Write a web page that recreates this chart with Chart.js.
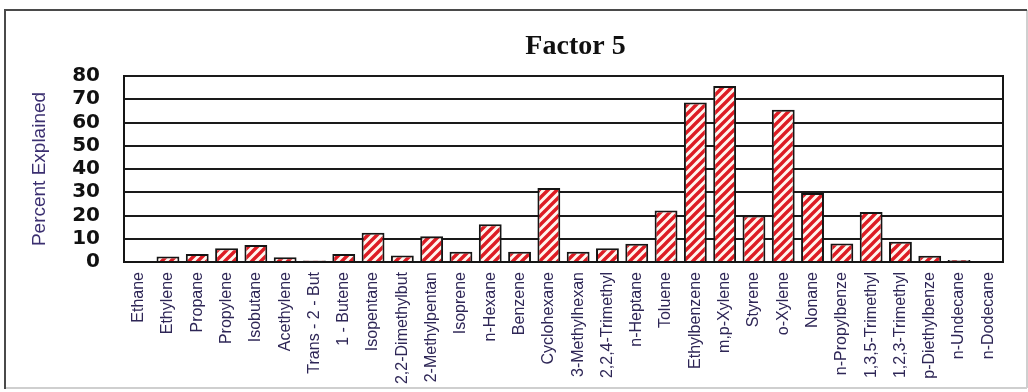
<!DOCTYPE html>
<html>
<head>
<meta charset="utf-8">
<script src="https://cdn.jsdelivr.net/npm/chart.js@4.4.1/dist/chart.umd.min.js"></script>
<style>
  html, body { margin: 0; padding: 0; background: #ffffff; }
  #wrap { width: 1028px; height: 392px; position: relative; }
</style>
</head>
<body>
<div id="wrap"><canvas id="factor5"></canvas></div>
<script>
// Compounds on the x axis
const categories = [
  'Ethane', 'Ethylene', 'Propane', 'Propylene', 'Isobutane', 'Acethylene',
  'Trans - 2 - But', '1 - Butene', 'Isopentane', '2,2-Dimethylbut',
  '2-Methylpentan', 'Isoprene', 'n-Hexane', 'Benzene', 'Cyclohexane',
  '3-Methylhexan', '2,2,4-Trimethyl', 'n-Heptane', 'Toluene', 'Ethylbenzene',
  'm,p-Xylene', 'Styrene', 'o-Xylene', 'Nonane', 'n-Propylbenze',
  '1,3,5-Trimethyl', '1,2,3-Trimethyl', 'p-Diethylbenze', 'n-Undecane', 'n-Dodecane'
];

// Percent of each compound explained by factor 5
const percentExplained = [
  0, 2.4, 3.4, 5.9, 7.3, 2.0,
  0.6, 3.4, 12.6, 2.8,
  11.1, 4.4, 16.2, 4.4, 31.8,
  4.4, 5.9, 7.9, 22.1, 68.6,
  75.7, 20.0, 65.5, 29.7, 8.0,
  21.5, 8.7, 2.7, 0.9, 0
];

// Value axis ticks
const yTicks = [0, 10, 20, 30, 40, 50, 60, 70, 80];

const chartTitle = 'Factor 5';
const yTitle = 'Percent Explained';

const labelFont = "'Liberation Sans', Arial, sans-serif";

// Red diagonal hatching on a cream ground for the bars
function makeHatch() {
  const s = 9;
  const c = document.createElement('canvas');
  c.width = s; c.height = s;
  const g = c.getContext('2d');
  g.fillStyle = '#fff6ef';
  g.fillRect(0, 0, s, s);
  g.strokeStyle = '#dd1c24';
  g.lineWidth = 3.4;
  g.beginPath();
  g.moveTo(-s, s); g.lineTo(s, -s);
  g.moveTo(0, s * 2); g.lineTo(s * 2, 0);
  g.moveTo(-1, s + 1); g.lineTo(s + 1, -1);
  g.stroke();
  return g.createPattern(c, 'repeat');
}

// Page frame and chart heading
const framePlugin = {
  id: 'frame',
  beforeDraw(chart) {
    const ctx = chart.ctx;
    ctx.save();
    ctx.fillStyle = '#ffffff';
    ctx.fillRect(0, 0, chart.width, chart.height);
    ctx.lineWidth = 2;
    ctx.strokeStyle = '#cfcfcf';
    ctx.beginPath();
    ctx.moveTo(1027, 10); ctx.lineTo(1027, 388);
    ctx.moveTo(5, 388); ctx.lineTo(1027, 388);
    ctx.stroke();
    ctx.strokeStyle = '#4a4a4a';
    ctx.beginPath();
    ctx.moveTo(5, 389); ctx.lineTo(5, 10); ctx.lineTo(1027, 10);
    ctx.stroke();
    ctx.restore();
  },
  afterDraw(chart) {
    const ctx = chart.ctx;
    const area = chart.chartArea;
    ctx.save();
    ctx.font = "bold 28px 'Liberation Serif', 'Times New Roman', serif";
    ctx.fillStyle = '#111111';
    ctx.textAlign = 'center';
    ctx.textBaseline = 'alphabetic';
    ctx.fillText(chartTitle, (area.left + area.right) / 2 + 12, 54);
    ctx.restore();
  }
};

const ctx = document.getElementById('factor5').getContext('2d');
new Chart(ctx, {
  type: 'bar',
  data: {
    labels: categories,
    datasets: [{
      label: yTitle,
      data: percentExplained,
      backgroundColor: makeHatch(),
      borderColor: '#151515',
      borderWidth: 2,
      barPercentage: 0.78,
      categoryPercentage: 1.0
    }]
  },
  options: {
    responsive: true,
    maintainAspectRatio: false,
    animation: false,
    layout: { padding: { top: 76, right: 25, left: 0, bottom: 0 } },
    plugins: {
      legend: { display: false },
      title: { display: false },
      tooltip: { enabled: false }
    },
    scales: {
      x: {
        grid: { display: false, drawTicks: false },
        border: { display: true, color: '#151515', width: 2 },
        ticks: {
          autoSkip: false,
          maxRotation: 90,
          minRotation: 90,
          padding: 10,
          color: '#2e2656',
          font: { family: labelFont, size: 16 }
        },
        afterFit(scale) { scale.height = 130; }
      },
      y: {
        min: 0,
        max: 80,
        afterBuildTicks(scale) { scale.ticks = yTicks.map(v => ({ value: v })); },
        grid: { color: '#1a1a1a', lineWidth: 2, drawTicks: false },
        border: { display: true, color: '#151515', width: 2 },
        ticks: {
          autoSkip: false,
          padding: 24,
          color: '#111111',
          font: { family: "'DejaVu Sans', sans-serif", size: 20, weight: 'bold' }
        },
        title: {
          display: true,
          text: yTitle,
          color: '#3b2f70',
          padding: { top: 28, bottom: 0 },
          font: { family: labelFont, size: 19 }
        },
        afterFit(scale) { scale.width = 124; }
      },
      yRight: {
        position: 'right',
        min: 0,
        max: 80,
        grid: { display: false, drawTicks: false },
        border: { display: true, color: '#151515', width: 2 },
        ticks: { display: false },
        afterFit(scale) { scale.width = 0; }
      }
    }
  },
  plugins: [framePlugin]
});
</script>
</body>
</html>
